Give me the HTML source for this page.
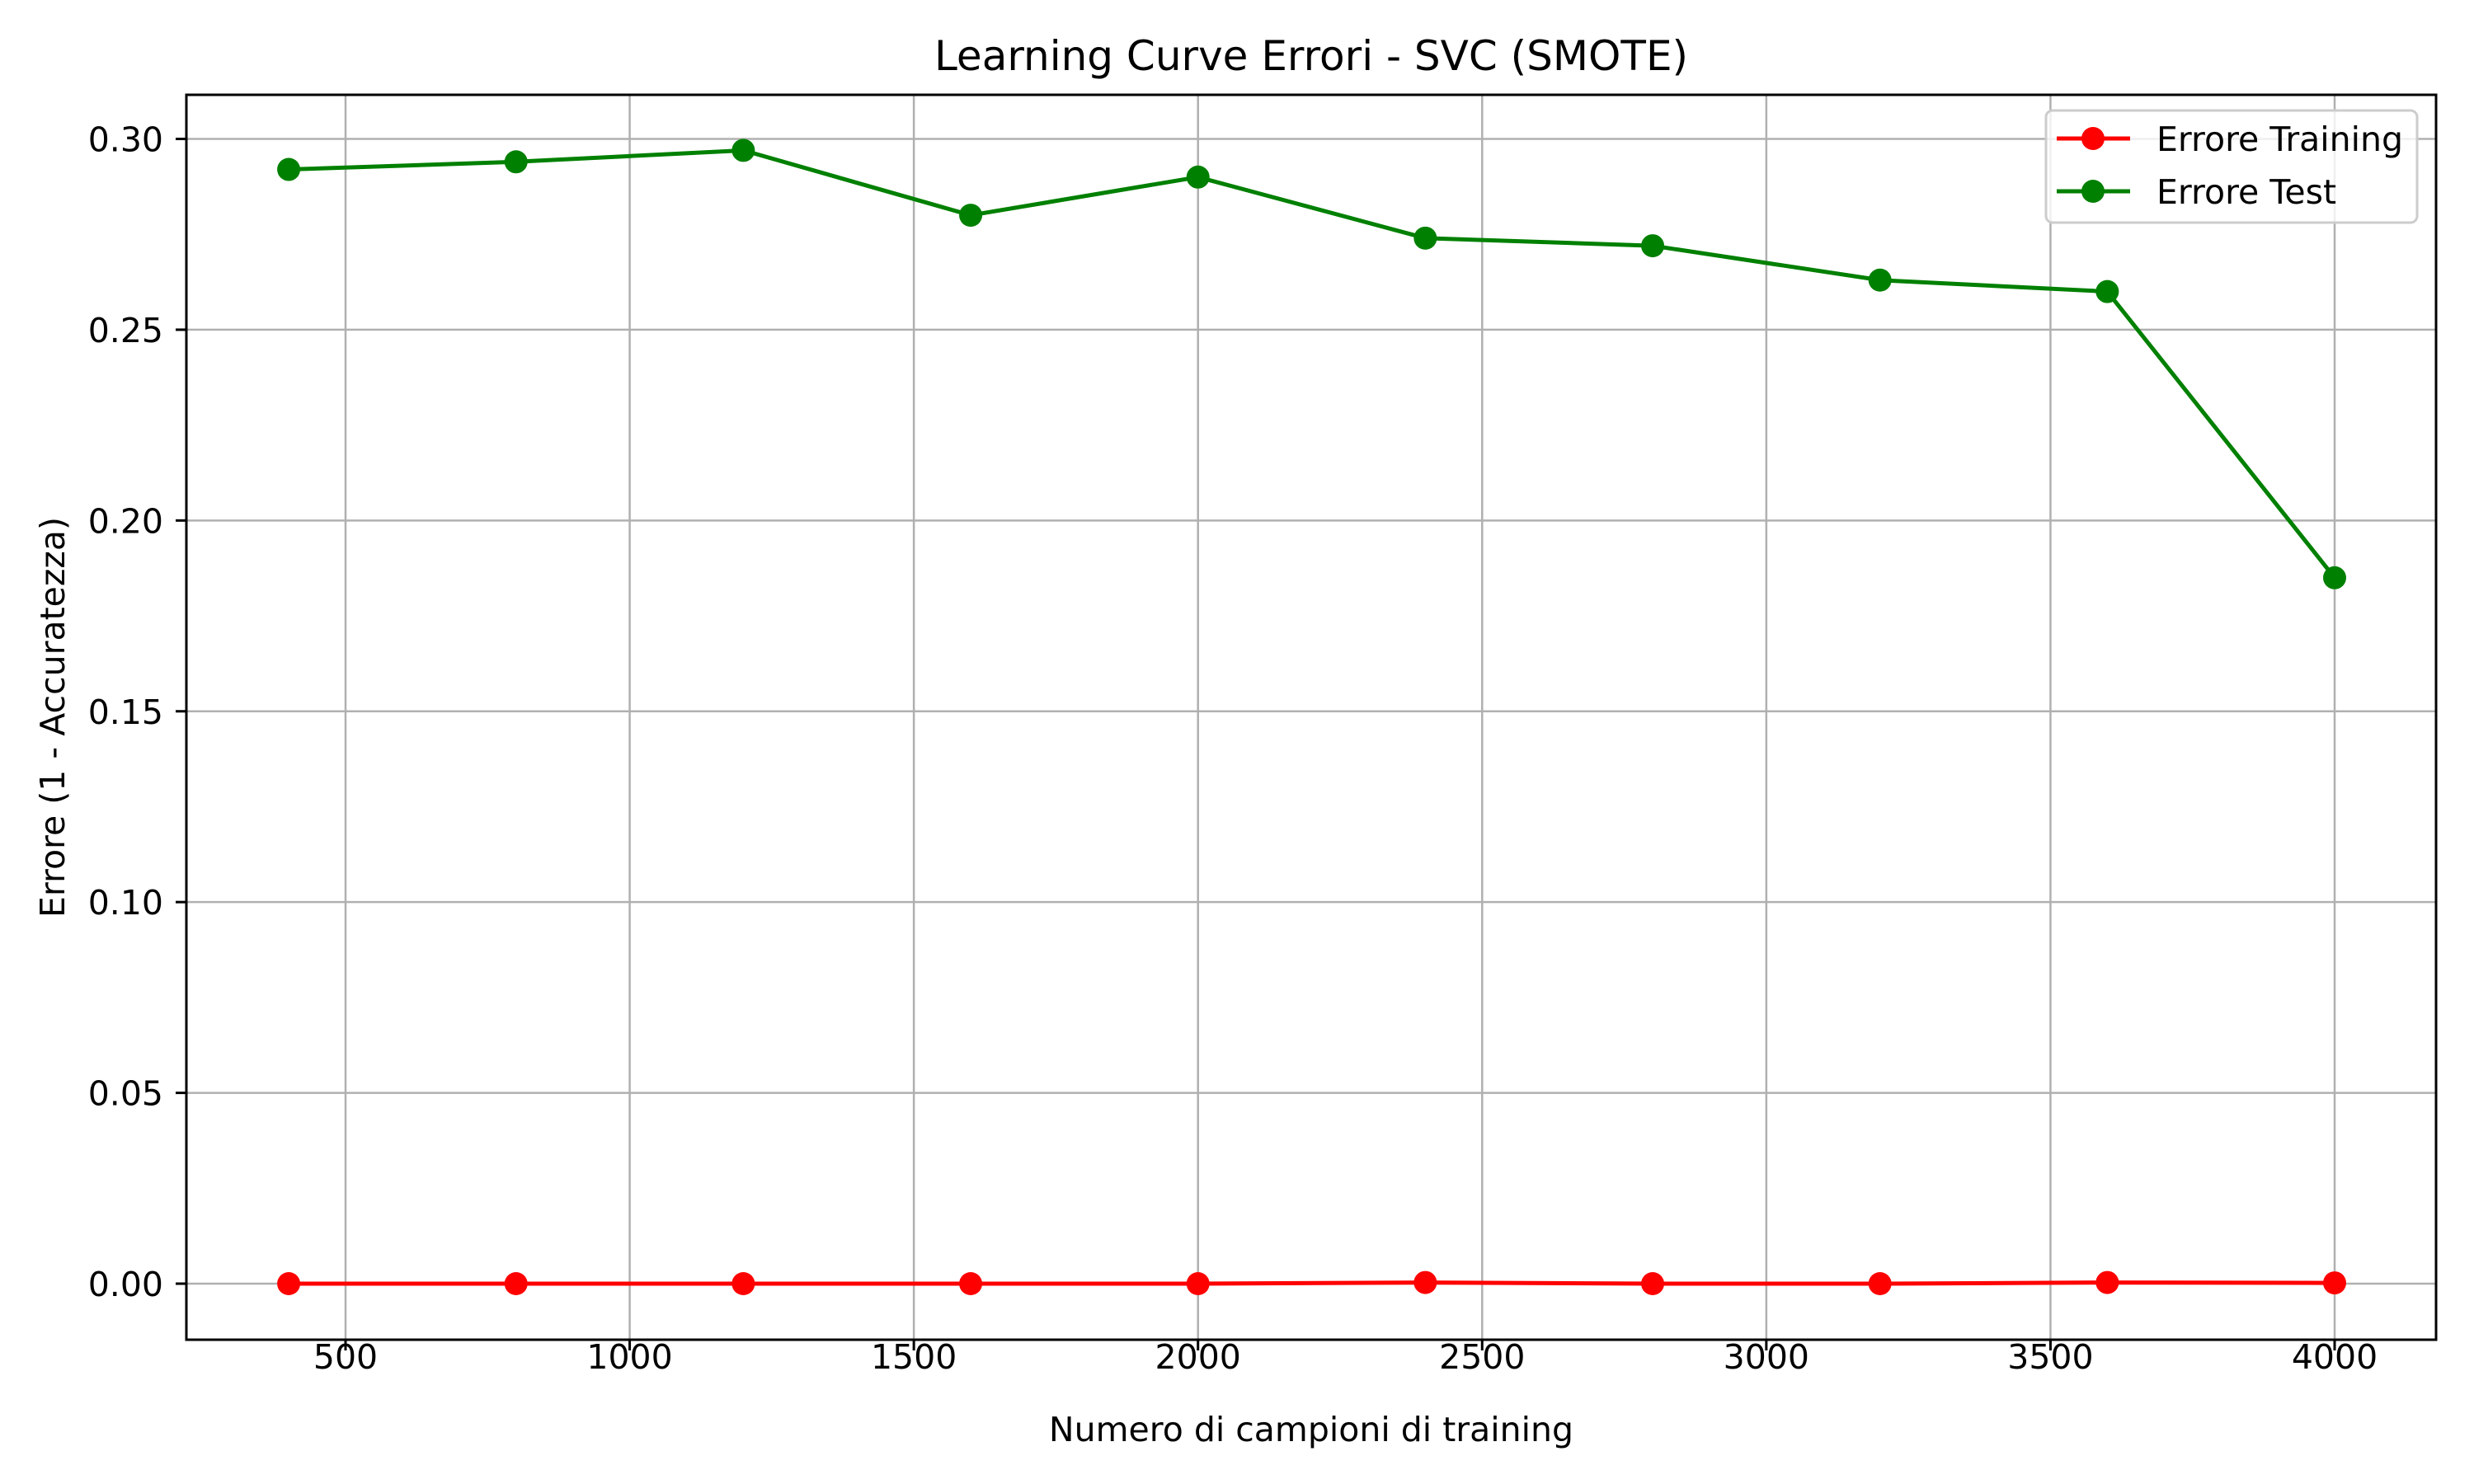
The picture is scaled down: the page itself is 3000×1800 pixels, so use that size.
<!DOCTYPE html>
<html><head><meta charset="utf-8"><style>
body{margin:0;background:#fff}
svg{display:block;font-family:"DejaVu Sans","Liberation Sans",sans-serif}
</style></head><body>
<svg id="chart" width="3000" height="1800" viewBox="0 0 3000 1800">
<rect width="3000" height="1800" fill="#fff"/>
<g id="grid"></g>
<g id="series"></g>
<rect x="226" y="115" width="2728" height="1510" fill="none" stroke="#000" stroke-width="3"/>
<g id="ticks"></g>
<text x="1590" y="85" font-size="50" text-anchor="middle">Learning Curve Errori - SVC (SMOTE)</text>
<text x="1590" y="1748" font-size="41" text-anchor="middle">Numero di campioni di training</text>
<text transform="translate(78,870) rotate(-90)" font-size="41" text-anchor="middle">Errore (1 - Accuratezza)</text>
<g>
<rect x="2481" y="134" width="450" height="136" rx="8" fill="#fff" fill-opacity="0.8" stroke="#ccc" stroke-width="3"/>
<g>
<line x1="2494" y1="168" x2="2583" y2="168" stroke="red" stroke-width="5"/>
<circle cx="2538" cy="168" r="14" fill="red"/>
<text x="2615" y="183" font-size="41">Errore Training</text></g>
<g>
<line x1="2494" y1="232" x2="2583" y2="232" stroke="green" stroke-width="5"/>
<circle cx="2538" cy="232" r="14" fill="green"/>
<text x="2615" y="247" font-size="41">Errore Test</text></g>
</g>
</svg>
<script>
const samples=[400,800,1200,1600,2000,2400,2800,3200,3600,4000];
const trainErr=[0,0,0,0,0,0.0003,0,0,0.0003,0.0002];
const testErr=[0.292,0.294,0.297,0.280,0.290,0.274,0.272,0.263,0.260,0.185];
const xTicks=[500,1000,1500,2000,2500,3000,3500,4000];
const yTicks=[0,0.05,0.10,0.15,0.20,0.25,0.30];
const NS='http://www.w3.org/2000/svg';
function X(v){return 419+(v-500)*(2831-419)/3500;}
function Y(v){return 1557-v*(1557-168.5)/0.30;}
function mk(t,a,p){const e=document.createElementNS(NS,t);for(const k in a)e.setAttribute(k,a[k]);p.appendChild(e);return e;}
const grid=document.getElementById('grid'),ticks=document.getElementById('ticks'),ser=document.getElementById('series');
xTicks.forEach(v=>{
 const g=mk('line',{x1:X(v),x2:X(v),y1:115,y2:1625,stroke:'#b0b0b0','stroke-width':2.5},grid);
 
 
 mk('line',{x1:X(v),x2:X(v),y1:1625,y2:1638,stroke:'#000','stroke-width':3},ticks);
 const t=mk('text',{x:X(v),y:1660,'font-size':41,'text-anchor':'middle'},ticks);t.textContent=v;
 
 
});
yTicks.forEach(v=>{
 const g=mk('line',{x1:226,x2:2954,y1:Y(v),y2:Y(v),stroke:'#b0b0b0','stroke-width':2.5},grid);
 
 
 mk('line',{x1:213,x2:226,y1:Y(v),y2:Y(v),stroke:'#000','stroke-width':3},ticks);
 const t=mk('text',{x:198,y:Y(v)+15,'font-size':41,'text-anchor':'end'},ticks);t.textContent=v.toFixed(2);
 
 
});
function drawSeries(vals,color,name){
 const pl=mk('polyline',{points:samples.map((s,i)=>X(s)+','+Y(vals[i])).join(' '),fill:'none',stroke:color,'stroke-width':5},ser);
 
 
 samples.forEach((s,i)=>{
  const c=mk('circle',{cx:X(s),cy:Y(vals[i]),r:14,fill:color},ser);
  
  
 });
}
drawSeries(trainErr,'red','training-error');
drawSeries(testErr,'green','test-error');
</script>
</body></html>
